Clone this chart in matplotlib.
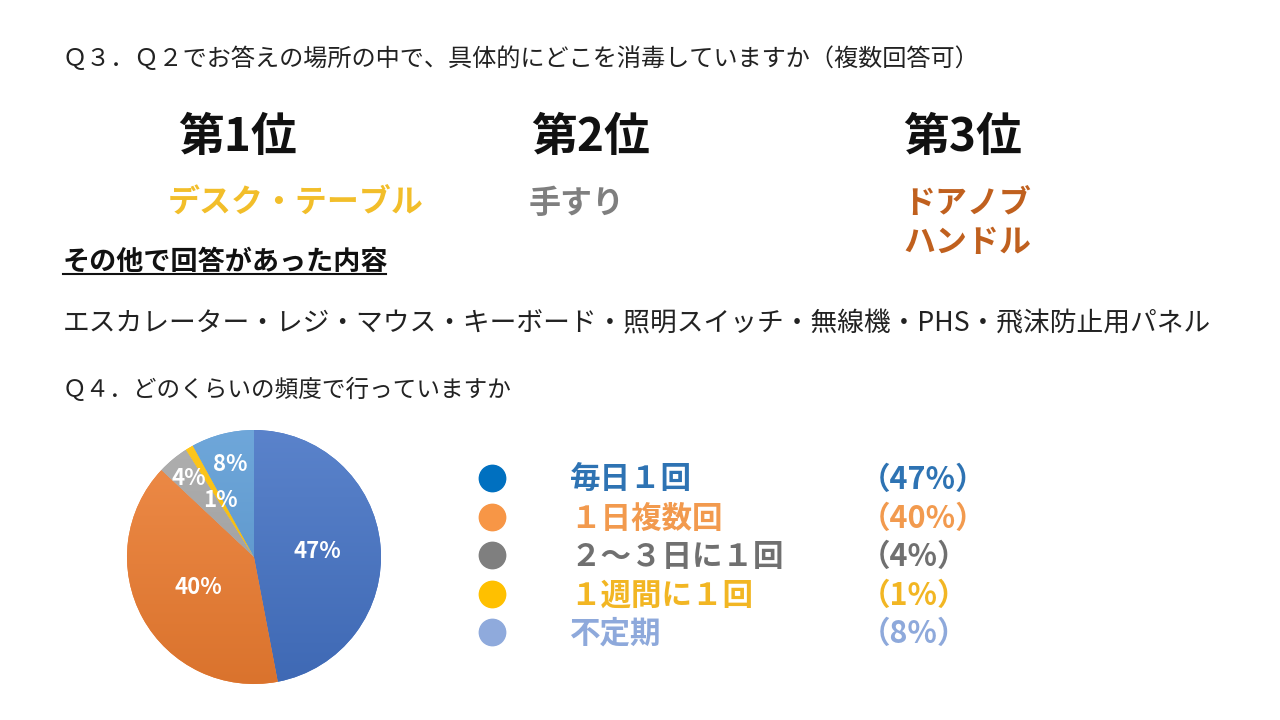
import numpy as np
import matplotlib
matplotlib.use("Agg")
import matplotlib.pyplot as plt
from matplotlib.colors import to_rgb
from matplotlib.lines import Line2D

plt.rcParams['font.family'] = ['Noto Sans CJK JP', 'DejaVu Sans']

W, H = 1280, 720

# --- data ---
q3_title = "Ｑ３．Ｑ２でお答えの場所の中で、具体的にどこを消毒していますか（複数回答可）"
rank_titles = ["第1位", "第2位", "第3位"]
rank_items = ["デスク・テーブル", "手すり", "ドアノブ\nハンドル"]
rank_colors = ["#F2BE2A", "#7F7F7F", "#C0601E"]
other_title = "その他で回答があった内容"
other_items = "エスカレーター・レジ・マウス・キーボード・照明スイッチ・無線機・PHS・飛沫防止用パネル"
q4_title = "Ｑ４．どのくらいの頻度で行っていますか"

freq_labels = ["毎日１回", "１日複数回", "２～３日に１回", "１週間に１回", "不定期"]
freq_values = [47, 40, 4, 1, 8]
pie_colors = ["#4472C4", "#ED7D31", "#A5A5A5", "#FFC000", "#5B9BD5"]
marker_colors = ["#0070C0", "#F79646", "#7F7F7F", "#FFC000", "#8FAADC"]
text_colors = ["#2E73B3", "#F29A4E", "#707070", "#F2B623", "#8EA9DB"]
label_dist = [0.5, 0.5, 0.8, 0.52, 0.75]


def px(x, y):
    # pixel position (from top-left) -> figure fraction
    return x / W, 1 - y / H


fig = plt.figure(figsize=(W / 100, H / 100), dpi=100)
fig.patch.set_facecolor("white")

# Q3 header
fig.text(*px(63, 59), q3_title, fontsize=17.4, va="center", ha="left", color="#222222")

# ranking
rank_x = [178, 531, 903]
item_x = [168, 529, 903]
for x, ix, t, item, c in zip(rank_x, item_x, rank_titles, rank_items, rank_colors):
    fig.text(*px(x, 138), t, fontsize=33, fontweight="bold", va="center", ha="left", color="#111111")
    fig.text(*px(ix, 188), item, fontsize=23, fontweight="bold",
             va="top", ha="left", color=c, linespacing=1.3)

# other answers
fig.text(*px(63, 262), other_title, fontsize=19.5, fontweight="bold", va="center", ha="left", color="#111111")
fig.add_artist(Line2D([63 / W, 386 / W], [1 - 274 / H, 1 - 274 / H], color="#111111", lw=1.5))
fig.text(*px(63, 324), other_items, fontsize=19.25, va="center", ha="left", color="#222222")

# Q4 header
fig.text(*px(63, 390), q4_title, fontsize=17, va="center", ha="left", color="#222222")

# pie chart
cx, cy, r = 254, 557, 127
lim = 1.05
ax = fig.add_axes([(cx - r * lim) / W, (H - cy - r * lim) / H, 2 * r * lim / W, 2 * r * lim / H])
wedges, _ = ax.pie(freq_values, colors=pie_colors, startangle=90, counterclock=False,
                   wedgeprops=dict(linewidth=0))
ax.set_aspect("equal")
ax.axis("off")

# subtle top-to-bottom gradient like the office style fill
for w, c in zip(wedges, pie_colors):
    base = np.array(to_rgb(c))
    top = base + (1 - base) * 0.12
    bot = base * 0.92
    t = np.linspace(0, 1, 256)[:, None]
    grad = top * (1 - t) + bot * t
    img = ax.imshow(grad[:, None, :], extent=(-1, 1, -1, 1), origin="upper",
                    aspect="auto", zorder=w.get_zorder() + 0.1)
    img.set_clip_path(w)

for w, v, d in zip(wedges, freq_values, label_dist):
    ang = np.deg2rad((w.theta1 + w.theta2) / 2)
    ax.text(d * np.cos(ang), d * np.sin(ang), f"{v}%", color="white", fontsize=16,
            fontweight="bold", ha="center", va="center", zorder=5)
ax.set_xlim(-lim, lim)
ax.set_ylim(-lim, lim)

# legend
row_y = [480, 519, 557, 596, 634]
for y, lab, v, mc, tc in zip(row_y, freq_labels, freq_values, marker_colors, text_colors):
    fig.add_artist(Line2D([492 / W], [1 - (y - 2) / H], marker="o", markersize=19,
                          markerfacecolor=mc, markeredgecolor=mc, linestyle="none"))
    fig.text(*px(570, y), lab, fontsize=22, fontweight="bold", va="center", ha="left", color=tc)
    fig.text(*px(860, y), f"（{v}%）", fontsize=22, fontweight="bold", va="center", ha="left", color=tc)

fig.savefig("out.png", dpi=100, facecolor="white")
